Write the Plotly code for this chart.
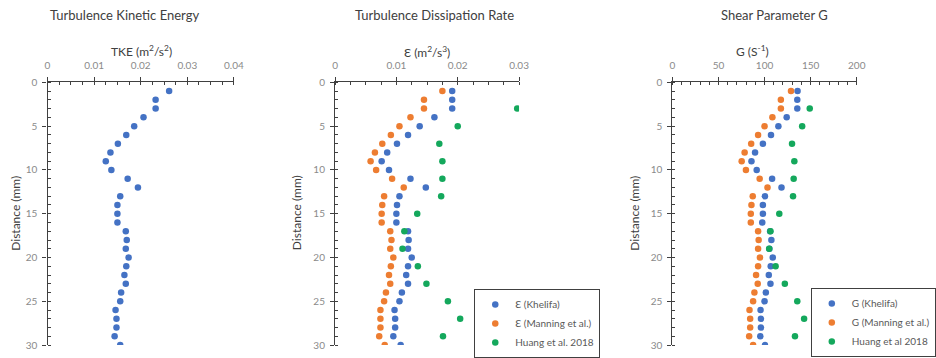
import plotly.graph_objects as go

# ---------------- data ----------------
depth = list(range(1, 31))
tke = [0.0261, 0.0232, 0.0232, 0.0206, 0.0186, 0.0169, 0.0151, 0.0135, 0.0125, 0.0137,
       0.0172, 0.0194, 0.0156, 0.0150, 0.0150, 0.0150, 0.0168, 0.0170, 0.0168, 0.0174,
       0.0169, 0.0165, 0.0168, 0.0158, 0.0156, 0.0146, 0.0148, 0.0148, 0.0144, 0.0156]

eps_khelifa = [0.0191, 0.0191, 0.0191, 0.0162, 0.0138, 0.0119, 0.0101, 0.0085, 0.0076, 0.0088,
               0.0123, 0.0148, 0.0105, 0.0101, 0.0100, 0.0100, 0.0119, 0.0120, 0.0119, 0.0125,
               0.0119, 0.0116, 0.0119, 0.0109, 0.0105, 0.0097, 0.0098, 0.0098, 0.0095, 0.0107]
eps_manning = [0.0175, 0.0145, 0.0145, 0.0123, 0.0105, 0.0091, 0.0077, 0.0065, 0.0058, 0.0067,
               0.0093, 0.0112, 0.0080, 0.0077, 0.0076, 0.0076, 0.0090, 0.0092, 0.0090, 0.0095,
               0.0091, 0.0088, 0.0090, 0.0083, 0.0080, 0.0074, 0.0074, 0.0074, 0.0072, 0.0081]
huang_depth = [3, 5, 7, 9, 11, 13, 15, 17, 19, 21, 23, 25, 27, 29]
eps_huang = [0.0297, 0.0200, 0.0170, 0.0175, 0.0175, 0.0173, 0.0134, 0.0113, 0.0110, 0.0135,
             0.0149, 0.0184, 0.0204, 0.0176]

g_khelifa = [135.8, 135.5, 135.5, 124.0, 115.0, 107.0, 98.2, 89.7, 85.8, 91.5,
             108.2, 118.4, 100.4, 98.2, 98.2, 97.5, 106.0, 107.4, 105.3, 108.9,
             106.7, 104.6, 106.4, 101.4, 100.0, 95.7, 96.1, 96.1, 95.4, 100.4]
g_manning = [128.7, 117.7, 117.7, 108.5, 100.0, 93.0, 85.5, 78.4, 75.2, 79.8,
             94.7, 103.2, 87.2, 85.8, 85.1, 85.1, 93.0, 93.6, 93.0, 95.0,
             93.0, 90.8, 92.6, 89.0, 87.6, 83.7, 84.4, 84.4, 83.3, 87.6]
g_huang = [149.0, 140.8, 129.8, 132.3, 131.6, 130.9, 116.0, 106.4, 105.0, 112.0,
           122.0, 135.5, 142.9, 133.0]

panel_titles = ["Turbulence Kinetic Energy", "Turbulence Dissipation Rate", "Shear Parameter G"]
x_titles = ["TKE (m<sup>2</sup>/s<sup>2</sup>)", "Ɛ (m<sup>2</sup>/s<sup>3</sup>)", "G (S<sup>-1</sup>)"]
y_title = "Distance (mm)"

# ---------------- style ----------------
W, H = 936, 358
BLUE, ORANGE, GREEN = "#4472C4", "#ED7D31", "#14A85C"
FONT = "Lato, 'Noto Sans', sans-serif"
TICK_C = "#8a8a8a"
LINE_C = "#404040"

def px_x(v):
    return v / W

def px_y(v):
    return 1 - v / H

fig = go.Figure()
ms = 6.5

fig.add_trace(go.Scatter(x=tke, y=depth, mode="markers", marker=dict(color=BLUE, size=ms),
                         xaxis="x", yaxis="y", showlegend=False, name="TKE"))

fig.add_trace(go.Scatter(x=eps_khelifa, y=depth, mode="markers", marker=dict(color=BLUE, size=ms),
                         xaxis="x2", yaxis="y2", name="Ɛ (Khelifa)", legend="legend"))
fig.add_trace(go.Scatter(x=eps_manning, y=depth, mode="markers", marker=dict(color=ORANGE, size=ms),
                         xaxis="x2", yaxis="y2", name="Ɛ (Manning et al.)", legend="legend"))
fig.add_trace(go.Scatter(x=eps_huang, y=huang_depth, mode="markers", marker=dict(color=GREEN, size=ms),
                         xaxis="x2", yaxis="y2", name="Huang et al. 2018", legend="legend"))

fig.add_trace(go.Scatter(x=g_khelifa, y=depth, mode="markers", marker=dict(color=BLUE, size=ms),
                         xaxis="x3", yaxis="y3", name="G (Khelifa)", legend="legend2"))
fig.add_trace(go.Scatter(x=g_manning, y=depth, mode="markers", marker=dict(color=ORANGE, size=ms),
                         xaxis="x3", yaxis="y3", name="G (Manning et al.)", legend="legend2"))
fig.add_trace(go.Scatter(x=g_huang, y=huang_depth, mode="markers", marker=dict(color=GREEN, size=ms),
                         xaxis="x3", yaxis="y3", name="Huang et al 2018", legend="legend2"))

x_domains = [(48.3, 237.7), (340.5, 527.5), (683.3, 870.7)]
y_dom = [px_y(350), px_y(83.5)]
x_ranges = [(0, 0.04), (0, 0.03), (0, 200)]
x_dticks = [0.01, 0.01, 50]
x_minor = [0.0025, 0.0025, 10]

layout = dict(
    width=W, height=H, margin=dict(l=0, r=0, t=0, b=0),
    paper_bgcolor="white", plot_bgcolor="white",
    font=dict(family=FONT, size=10, color=TICK_C),
)

for i in range(3):
    sx = "" if i == 0 else str(i + 1)
    xd = [px_x(x_domains[i][0]), px_x(x_domains[i][1])]
    layout["xaxis" + sx] = dict(
        domain=xd, anchor="y" + sx, side="top", range=list(x_ranges[i]), dtick=x_dticks[i], tick0=0,
        showgrid=False, zeroline=False, showline=True, linecolor=LINE_C, linewidth=1.2,
        ticks="outside", ticklen=4, tickcolor=LINE_C, tickwidth=1.2,
        minor=dict(dtick=x_minor[i], ticks="inside", ticklen=3, tickcolor=LINE_C, tickwidth=1),
        tickfont=dict(size=10, color=TICK_C), ticklabelstandoff=4, automargin=False,
        fixedrange=True,
    )
    layout["yaxis" + sx] = dict(
        domain=y_dom, anchor="x" + sx, range=[30, 0], dtick=5, tick0=0,
        showgrid=False, zeroline=False, showline=True, linecolor=LINE_C, linewidth=1.2,
        ticks="outside", ticklen=4, tickcolor=LINE_C, tickwidth=1.2,
        minor=dict(dtick=1, ticks="inside", ticklen=3, tickcolor=LINE_C, tickwidth=1),
        tickfont=dict(size=10, color=TICK_C), ticklabelstandoff=3, automargin=False,
        fixedrange=True,
    )
    # overlay axes giving the inner half of the crossing major ticks
    ox = "xaxis" + str(i + 4)
    oy = "yaxis" + str(i + 4)
    base_x = "x" + sx
    base_y = "y" + sx
    layout[ox] = dict(
        domain=xd, overlaying=base_x, anchor=base_y, side="top", range=list(x_ranges[i]),
        dtick=x_dticks[i], tick0=0, showgrid=False, zeroline=False, showline=False,
        ticks="inside", ticklen=4, tickcolor=LINE_C, tickwidth=1.2, showticklabels=False,
        automargin=False, fixedrange=True,
    )
    layout[oy] = dict(
        domain=y_dom, overlaying=base_y, anchor=base_x, side="left", range=[30, 0],
        dtick=5, tick0=0, showgrid=False, zeroline=False, showline=False,
        ticks="inside", ticklen=4, tickcolor=LINE_C, tickwidth=1.2, showticklabels=False,
        automargin=False, fixedrange=True,
    )

legend_common = dict(
    bgcolor="white", bordercolor=LINE_C, borderwidth=1,
    font=dict(family=FONT, size=10, color="#595959"),
    itemwidth=30, tracegroupgap=0, xanchor="left", yanchor="top",
    itemclick=False, itemdoubleclick=False,
)
layout["legend"] = dict(legend_common, x=px_x(482), y=px_y(293))
layout["legend2"] = dict(legend_common, x=px_x(824), y=px_y(292))

annotations = []
title_pos = [(126.7, 15), (441.7, 15), (786.7, 15)]
xt_pos = [(143.3, 52), (434, 53), (765, 52)]
yt_pos = [16, 302, 645]
for i in range(3):
    annotations.append(dict(text=panel_titles[i], x=px_x(title_pos[i][0]), y=px_y(title_pos[i][1]),
                            xref="paper", yref="paper", showarrow=False, xanchor="center", yanchor="middle",
                            font=dict(family=FONT, size=13, color="#404040")))
    annotations.append(dict(text=x_titles[i], x=px_x(xt_pos[i][0]), y=px_y(xt_pos[i][1]),
                            xref="paper", yref="paper", showarrow=False, xanchor="center", yanchor="middle",
                            font=dict(family=FONT, size=12, color="#404040")))
    annotations.append(dict(text=y_title, x=px_x(yt_pos[i]), y=px_y(216), textangle=-90,
                            xref="paper", yref="paper", showarrow=False, xanchor="center", yanchor="middle",
                            font=dict(family=FONT, size=12, color="#404040")))
layout["annotations"] = annotations

fig.update_layout(**layout)
fig.write_html("out.html")
